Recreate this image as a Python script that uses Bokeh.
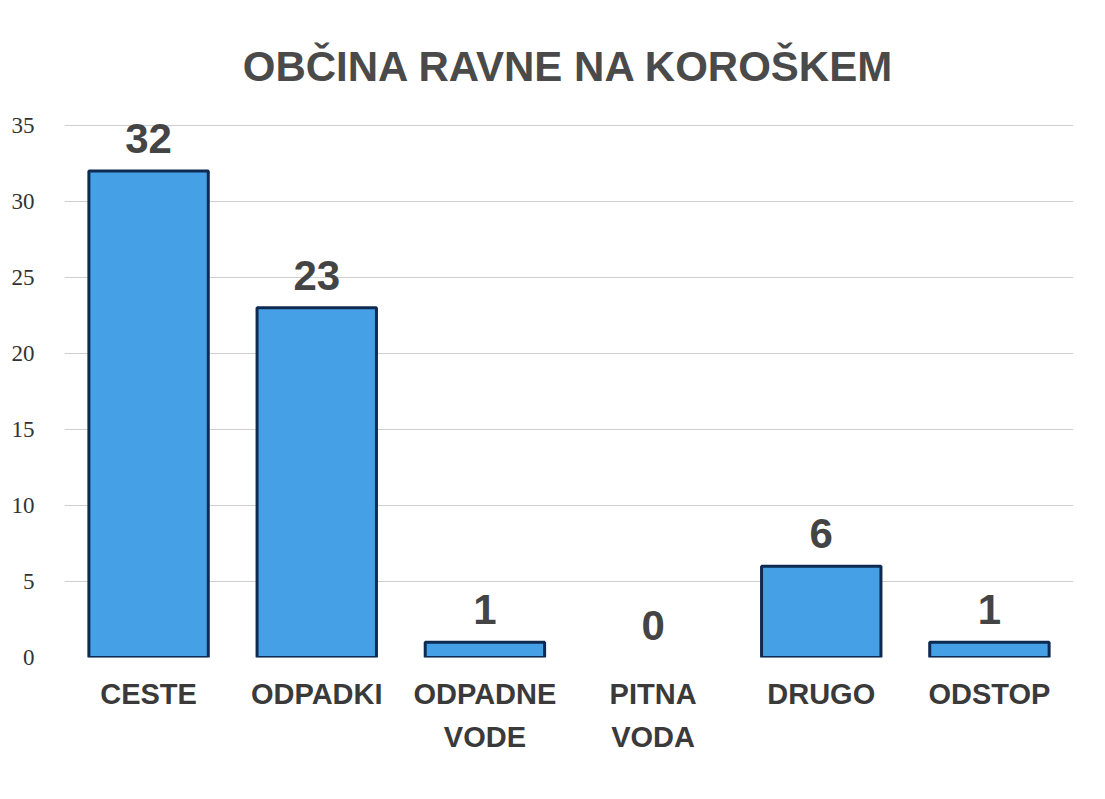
from bokeh.plotting import figure
from bokeh.models import ColumnDataSource, FixedTicker, Range1d
from bokeh.core.properties import value
from bokeh.embed import file_html
from bokeh.resources import INLINE

categories = ["CESTE", "ODPADKI", "ODPADNE\nVODE", "PITNA\nVODA", "DRUGO", "ODSTOP"]
counts = [32, 23, 1, 0, 6, 1]
y_ticks = [0, 5, 10, 15, 20, 25, 30, 35]

src = ColumnDataSource(dict(cat=categories, val=counts, lab=[str(v) for v in counts],
                            la=[0.0 if v == 0 else 1.0 for v in counts]))

p = figure(x_range=categories, y_range=Range1d(0, 36.5), width=1089, height=783,
           output_backend="svg", toolbar_location=None,
           title="OBČINA RAVNE NA KOROŠKEM",
           min_border_left=64, min_border_right=16, min_border_top=102, min_border_bottom=126)

p.title.align = "center"
p.title.text_font = "Liberation Sans"
p.title.text_font_size = "42px"
p.title.text_font_style = "bold"
p.title.text_color = "#4a4a4a"
p.title.offset = 0
p.title.standoff = 25

p.vbar(x="cat", top="val", bottom=0, width=0.71, source=src,
       fill_color="#45a0e6", line_color="#0e2a50", line_width=3, line_alpha="la")

p.text(x="cat", y="val", text="lab", source=src, text_align="center",
       text_baseline="bottom", y_offset=-18,
       text_font=value("Liberation Sans"), text_font_style="bold",
       text_font_size="42px", text_color="#444444")

p.yaxis.ticker = FixedTicker(ticks=y_ticks)
p.yaxis.axis_line_color = None
p.yaxis.major_tick_line_color = None
p.yaxis.minor_tick_line_color = None
p.yaxis.major_label_text_font = "Liberation Serif"
p.yaxis.major_label_text_font_size = "23px"
p.yaxis.major_label_text_color = "#333333"
p.yaxis.major_label_standoff = 24

p.xaxis.axis_line_color = None
p.xaxis.major_tick_line_color = None
p.xaxis.major_label_text_font = "Liberation Sans"
p.xaxis.major_label_text_font_style = "bold"
p.xaxis.major_label_text_font_size = "29px"
p.xaxis.major_label_text_color = "#3a3a3a"
p.xaxis.major_label_text_line_height = 1.35
p.xaxis.major_label_standoff = 14

p.xgrid.grid_line_color = None
p.ygrid.grid_line_color = "#cfcfcf"
p.ygrid.grid_line_width = 1
p.outline_line_color = None
p.x_range.range_padding = 0

open("out.html", "w").write(file_html(p, INLINE))
